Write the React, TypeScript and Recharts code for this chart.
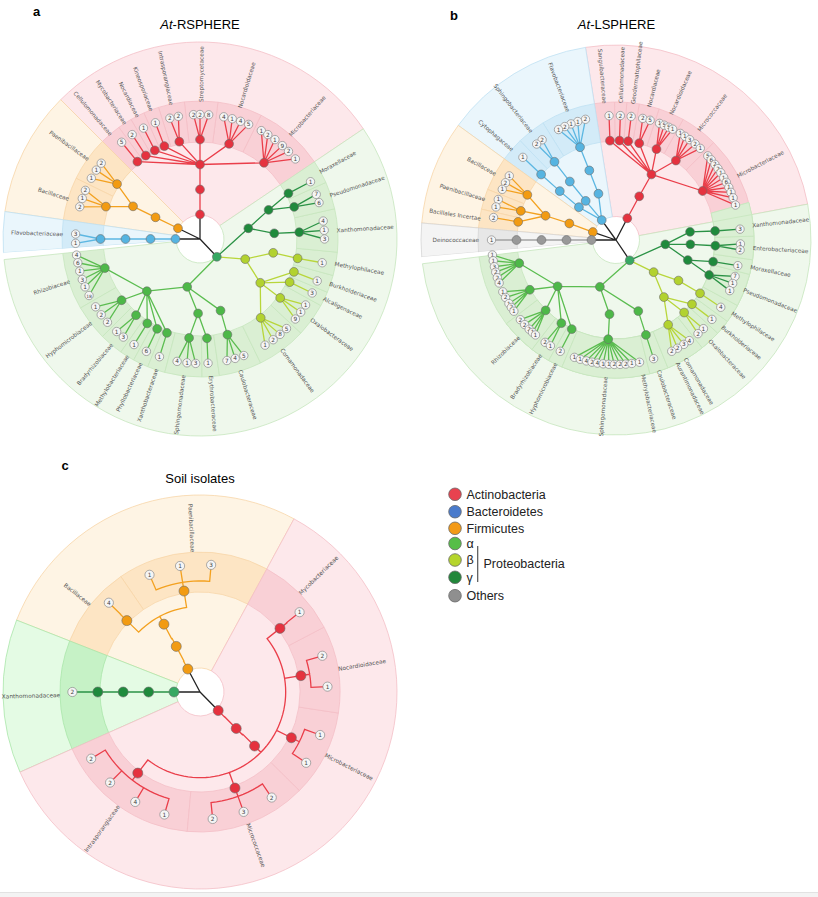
import React from 'react'
import { PieChart, Pie, Cell, ComposedChart, Line, Scatter, XAxis, YAxis } from 'recharts'

// node: [id, parent, angle (deg, ccw from 3 o'clock), taxonomic level, group]
type NodeRow = [string, string, number, number, string?]
// leaf: [family node, angle, isolates]
type LeafRow = [string, number, number]
type FamRow = [string, string]
// phylum sector: [tint, start, end]
type SecRow = [string, number, number]

// ---------- a: At-RSPHERE ----------
const rsphereSectors: SecRow[] = [
  ['red', 34, 135], ['orange', 135, 172], ['blue', 172, 184], ['gap', 184, 186], ['green', 186, 394],
]
const rsphereNodes: NodeRow[] = [
  ['A1', 'r', 90, 1, 'act'], ['A2', 'A1', 90, 2], ['A3', 'A2', 90, 3],
  ['Acel', 'A3', 129, 4], ['Amyc', 'A3', 123, 4], ['Anoc', 'A3', 117, 4], ['Akin', 'A3', 111, 4],
  ['Aint', 'A3', 102, 4], ['Astr', 'A3', 90, 4], ['Anod', 'A3', 73, 4], ['Amic', 'A3', 50, 4],
  ['F1', 'r', 154, 1, 'fir'], ['F2', 'F1', 154, 2], ['F3', 'F2', 154, 3], ['Fpae', 'F3', 146.5, 4], ['Fbac', 'F3', 161, 4],
  ['B1', 'r', 180, 1, 'bac'], ['B2', 'B1', 180, 2], ['B3', 'B2', 180, 3], ['Bfla', 'B3', 180, 4],
  ['P1', 'r', 313.4, 1, 'prot'],
  ['a1', 'P1', 255, 2, 'alpha'], ['a2', 'a1', 224.5, 3], ['a3', 'a1', 268.5, 3], ['a4', 'a1', 286, 3],
  ['arhi', 'a2', 197, 4], ['ahyp', 'a2', 218, 4], ['abra', 'a2', 230, 4], ['amet', 'a2', 238, 4],
  ['aphy', 'a2', 244.5, 4], ['axan', 'a2', 250.6, 4], ['asph', 'a3', 263.7, 4], ['aery', 'a3', 274, 4], ['acau', 'a4', 286, 4],
  ['b1', 'P1', 336, 2, 'beta'], ['b2', 'b1', 349.3, 3], ['b3', 'b1', 324, 3],
  ['bmet', 'b2', 348.8, 4], ['bbur', 'b3', 340.7, 4], ['balc', 'b3', 334.3, 4], ['boxa', 'b3', 323.7, 4], ['bcom', 'b3', 307.6, 4],
  ['g1', 'P1', 12.5, 2, 'gamma'], ['g2', 'g1', 4.4, 3], ['g3', 'g1', 23, 3],
  ['gxan', 'g2', 3.9, 4], ['gpse', 'g3', 18.8, 4], ['gmor', 'g3', 27.3, 4],
]
const rsphereLeaves: LeafRow[] = [
  ['Acel', 129, 5], ['Amyc', 123, 2], ['Anoc', 117, 1], ['Akin', 111, 1], ['Aint', 104, 2], ['Aint', 100, 2],
  ['Astr', 93, 2], ['Astr', 90, 2], ['Astr', 86, 8], ['Anod', 79, 4], ['Anod', 75, 1], ['Anod', 71, 4], ['Anod', 67, 5],
  ['Amic', 60.5, 1], ['Amic', 57, 2], ['Amic', 53, 1], ['Amic', 48.6, 9], ['Amic', 44.7, 2], ['Amic', 40, 1],
  ['Fpae', 142.5, 2], ['Fpae', 146.4, 1], ['Fpae', 150.8, 1], ['Fbac', 157, 2], ['Fbac', 161, 1], ['Fbac', 165, 2],
  ['Bfla', 177.7, 3], ['Bfla', 182, 1],
  ['arhi', 187.4, 4], ['arhi', 191, 6], ['arhi', 195, 1], ['arhi', 199, 3], ['arhi', 202.6, 1], ['arhi', 207, 18],
  ['ahyp', 213, 1], ['ahyp', 217.5, 2], ['ahyp', 222, 2], ['abra', 228, 1], ['abra', 232, 3], ['amet', 238, 1],
  ['aphy', 244.5, 6], ['axan', 251, 1], ['asph', 259.4, 4], ['asph', 264, 1], ['asph', 268, 3], ['aery', 273.7, 1],
  ['acau', 282.5, 7], ['acau', 286.4, 4], ['acau', 290.6, 5],
  ['bmet', 349, 1], ['bbur', 340.3, 1], ['balc', 334.3, 3], ['boxa', 328, 1], ['boxa', 324, 1], ['boxa', 320, 9],
  ['bcom', 314, 5], ['bcom', 310, 8], ['bcom', 306, 2], ['bcom', 301.5, 1],
  ['gmor', 27.4, 1], ['gpse', 21, 7], ['gpse', 17, 6], ['gxan', 8.3, 4], ['gxan', 4, 1], ['gxan', 0, 3],
]
const rsphereFamilies: FamRow[] = [
  ['Acel', 'Cellulomonadaceae'], ['Amyc', 'Mycobacteriaceae'], ['Anoc', 'Nocardiaceae'], ['Akin', 'Kineosporiaceae'],
  ['Aint', 'Intrasporangiaceae'], ['Astr', 'Streptomycetaceae'], ['Anod', 'Nocardioidaceae'], ['Amic', 'Microbacteriaceae'],
  ['Fpae', 'Paenibacillaceae'], ['Fbac', 'Bacillaceae'], ['Bfla', 'Flavobacteriaceae'],
  ['arhi', 'Rhizobiaceae'], ['ahyp', 'Hyphomicrobiaceae'], ['abra', 'Bradyrhizobiaceae'], ['amet', 'Methylobacteriaceae'],
  ['aphy', 'Phyllobacteriaceae'], ['axan', 'Xanthobacteraceae'], ['asph', 'Sphingomonadaceae'], ['aery', 'Erythrobacteraceae'],
  ['acau', 'Caulobacteraceae'], ['bmet', 'Methylophilaceae'], ['bbur', 'Burkholderiaceae'], ['balc', 'Alcaligenaceae'],
  ['boxa', 'Oxalobacteraceae'], ['bcom', 'Comamonadaceae'], ['gxan', 'Xanthomonadaceae'], ['gpse', 'Pseudomonadaceae'],
  ['gmor', 'Moraxellaceae'],
]

// ---------- b: At-LSPHERE ----------
const lsphereSectors: SecRow[] = [
  ['red', 10.6, 99], ['blue', 99, 144], ['orange', 144, 175], ['grey', 175, 185], ['gap', 185, 187], ['green', 187, 370.6],
]
const lsphereNodes: NodeRow[] = [
  ['A1', 'r', 62.5, 1, 'act'], ['A2', 'A1', 62, 2], ['A3', 'A2', 61.6, 3],
  ['Asan', 'A3', 93.5, 4], ['Acel', 'A3', 88, 4], ['Ageo', 'A3', 83, 4], ['Anoc', 'A3', 76.5, 4],
  ['Anod', 'A3', 66, 4], ['Amcc', 'A3', 53, 4], ['Amic', 'A3', 29.5, 4],
  ['B1', 'r', 125.6, 1, 'bac'], ['B2', 'B1', 110.8, 2], ['B3', 'B2', 111, 3], ['Bfla', 'B3', 111.2, 4],
  ['B4', 'B1', 127.8, 2], ['B5', 'B4', 128.3, 3], ['Bsph', 'B5', 128.2, 4],
  ['B6', 'B1', 138.5, 2], ['B7', 'B6', 139, 3], ['Bcyt', 'B7', 138.8, 4],
  ['F1', 'r', 161, 1, 'fir'], ['F2', 'F1', 160.5, 2], ['F3', 'F2', 161, 3],
  ['Fbac', 'F3', 153, 4], ['Fpae', 'F3', 163, 4], ['Finc', 'F3', 169.5, 4],
  ['O1', 'r', 180, 1, 'oth'], ['O2', 'O1', 180, 2], ['O3', 'O2', 180, 3], ['Odei', 'O3', 180, 4],
  ['P1', 'r', 304, 1, 'prot'],
  ['a1', 'P1', 251, 2, 'alpha'], ['a2', 'a1', 218.4, 3], ['a3', 'a1', 265, 3], ['a4', 'a1', 287.4, 3],
  ['amet', 'a2', 193.5, 4], ['aaur', 'a2', 210, 4], ['arhi', 'a2', 225, 4], ['abra', 'a2', 236.7, 4],
  ['ahyp', 'a2', 243.6, 4], ['asph', 'a3', 265.5, 4], ['acau', 'a4', 287.5, 4],
  ['b1', 'P1', 319.5, 2, 'beta'], ['b2', 'b1', 327, 3], ['b3', 'b1', 310, 3],
  ['bmet', 'b2', 327.6, 4], ['bbur', 'b3', 319.8, 4], ['boxa', 'b3', 313.2, 4], ['bcom', 'b3', 301.6, 4],
  ['g1', 'P1', 355, 2, 'gamma'], ['g2', 'g1', 6.3, 3], ['g3', 'g1', 356.7, 3], ['g4', 'g1', 344.4, 3],
  ['gxan', 'g2', 5.2, 4], ['gent', 'g3', 356.7, 4], ['gmor', 'g4', 347.4, 4], ['gpse', 'g4', 339.4, 4],
]
const lsphereLeaves: LeafRow[] = [
  ['Asan', 93.2, 1], ['Acel', 88, 2], ['Ageo', 83, 2], ['Anoc', 77.6, 2], ['Anoc', 74.1, 5],
  ['Anod', 69.5, 1], ['Anod', 67.2, 5], ['Anod', 64.9, 5], ['Anod', 62.9, 1],
  ['Amcc', 58.9, 1], ['Amcc', 56.4, 1], ['Amcc', 53.7, 3], ['Amcc', 50.5, 2], ['Amcc', 47.4, 1],
  ['Amic', 42.5, 5], ['Amic', 40.1, 6], ['Amic', 37.4, 2], ['Amic', 35, 2], ['Amic', 32.7, 1], ['Amic', 30.1, 1],
  ['Amic', 27.6, 6], ['Amic', 25, 1], ['Amic', 22.5, 1], ['Amic', 19.8, 1], ['Amic', 16.3, 1],
  ['Bfla', 104.2, 2], ['Bfla', 107.9, 1], ['Bfla', 111.2, 1], ['Bfla', 114.3, 2], ['Bfla', 117.5, 1],
  ['Bsph', 126.4, 2], ['Bsph', 129.6, 2], ['Bcyt', 138.4, 1],
  ['Fbac', 149, 1], ['Fbac', 152.6, 2], ['Fbac', 156, 1], ['Fpae', 161, 1], ['Fpae', 164.6, 1], ['Finc', 169.6, 2],
  ['Odei', 180, 1],
  ['amet', 186.9, 1], ['amet', 189.6, 1], ['amet', 192.4, 3], ['amet', 195, 2], ['amet', 197.6, 2], ['amet', 200.2, 4],
  ['aaur', 204.6, 1], ['aaur', 207.5, 2], ['aaur', 210.7, 1], ['aaur', 212.8, 2], ['aaur', 214.9, 1],
  ['arhi', 219.8, 2], ['arhi', 222.8, 2], ['arhi', 225.8, 2], ['arhi', 227.9, 1], ['arhi', 229.7, 1],
  ['abra', 235.3, 2], ['abra', 238.2, 1], ['ahyp', 243.4, 2],
  ['asph', 250.5, 1], ['asph', 253.3, 1], ['asph', 256.2, 4], ['asph', 258.9, 2], ['asph', 261.4, 4], ['asph', 264.1, 1],
  ['asph', 266.7, 1], ['asph', 269.2, 2], ['asph', 271.9, 2], ['asph', 274.5, 2], ['asph', 277.3, 1], ['asph', 280.9, 1],
  ['acau', 287.6, 3],
  ['bmet', 327.3, 4], ['bbur', 320.4, 1], ['boxa', 314.6, 1], ['boxa', 311.2, 2],
  ['bcom', 306.1, 4], ['bcom', 303, 3], ['bcom', 299.6, 2], ['bcom', 296.6, 2],
  ['gxan', 5, 3], ['gent', 358.2, 1], ['gent', 355.4, 2], ['gmor', 348.1, 1],
  ['gpse', 343, 7], ['gpse', 339.6, 1], ['gpse', 336, 1],
]
const lsphereFamilies: FamRow[] = [
  ['Asan', 'Sanguibacteraceae'], ['Acel', 'Cellulomonadaceae'], ['Ageo', 'Geodermatophilaceae'], ['Anoc', 'Nocardiaceae'],
  ['Anod', 'Nocardioidaceae'], ['Amcc', 'Micrococcaceae'], ['Amic', 'Microbacteriaceae'],
  ['Bfla', 'Flavobacteriaceae'], ['Bsph', 'Sphingobacteriaceae'], ['Bcyt', 'Cytophagaceae'],
  ['Fbac', 'Bacillaceae'], ['Fpae', 'Paenibacillaceae'], ['Finc', 'Bacillales Incertae'], ['Odei', 'Deinococcaceae'],
  ['amet', 'Methylobacteriaceae'], ['aaur', 'Aurantimonadaceae'], ['arhi', 'Rhizobiaceae'], ['abra', 'Bradyrhizobiaceae'],
  ['ahyp', 'Hyphomicrobiaceae'], ['asph', 'Sphingomonadaceae'], ['acau', 'Caulobacteraceae'],
  ['bmet', 'Methylophilaceae'], ['bbur', 'Burkholderiaceae'], ['boxa', 'Oxalobacteraceae'], ['bcom', 'Comamonadaceae'],
  ['gxan', 'Xanthomonadaceae'], ['gent', 'Enterobacteriaceae'], ['gmor', 'Moraxellaceae'], ['gpse', 'Pseudomonadaceae'],
]

// ---------- c: Soil isolates ----------
const soilSectors: SecRow[] = [['orange', 61.5, 158.6], ['cgreen', 158.6, 204], ['red', 204, 421.5]]
const soilNodes: NodeRow[] = [
  ['F1', 'r', 118, 1, 'fir'], ['F2', 'F1', 117.5, 2], ['F3', 'F2', 118, 3], ['Fbac', 'F3', 135.7, 4], ['Fpae', 'F3', 99, 4],
  ['G1', 'r', 180, 1, 'prot'], ['G2', 'G1', 180, 2, 'gamma'], ['G3', 'G2', 180, 3], ['Gxan', 'G3', 180, 4],
  ['A1', 'r', 314.4, 1, 'act'], ['A2', 'A1', 314.8, 2], ['A3', 'A2', 315.3, 3],
  ['Amyc', 'A3', 38.5, 4], ['Anod', 'A3', 9.2, 4], ['Amic', 'A3', 333.4, 4], ['Amcc', 'A3', 290, 4], ['Aint', 'A3', 232.5, 4],
]
const soilLeaves: LeafRow[] = [
  ['Fbac', 135.6, 4], ['Fpae', 113.3, 1], ['Fpae', 99, 1], ['Fpae', 85, 3], ['Gxan', 180, 2],
  ['Amyc', 38.7, 1], ['Anod', 16.5, 2], ['Anod', 2.4, 1], ['Amic', 340.3, 1], ['Amic', 326.3, 1],
  ['Amcc', 304.2, 2], ['Amcc', 290, 3], ['Amcc', 275.7, 2],
  ['Aint', 253.8, 1], ['Aint', 239.5, 4], ['Aint', 225.2, 2], ['Aint', 211.5, 2],
]
const soilFamilies: FamRow[] = [
  ['Fbac', 'Bacillaceae'], ['Fpae', 'Paenibacillaceae'], ['Gxan', 'Xanthomonadaceae'], ['Amyc', 'Mycobacteriaceae'],
  ['Anod', 'Nocardioidaceae'], ['Amic', 'Microbacteriaceae'], ['Amcc', 'Micrococcaceae'], ['Aint', 'Intrasporangiaceae'],
]

const legendNames = ['Actinobacteria', 'Bacteroidetes', 'Firmicutes', 'α', 'β', 'γ', 'Others']
const legendColors = ['#e8424f', '#4a7bcc', '#f39a17', '#56be48', '#b5d52c', '#21873a', '#8f8f8f']

const TINT: Record<string, string[]> = {
  red: ['#fde8eb', '#f9d0d6', '#f4bfc7'],
  orange: ['#fef4e4', '#fde5c4', '#f8d6a8'],
  blue: ['#eaf6fc', '#d3ebf8', '#bfe1f2'],
  green: ['#eff8ec', '#daefd3', '#c7e6be'],
  grey: ['#f4f4f4', '#e7e7e7', '#d6d6d6'],
  cgreen: ['#e4fbe4', '#c6f2c6', '#a9e6a9'],
  gap: ['#ffffff', '#ffffff', '#ffffff'],
}
const NODE_FILL: Record<string, string> = {
  act: '#e5323f', bac: '#56b4e1', fir: '#f29b12', prot: '#36a862', alpha: '#4db848',
  beta: '#b2d22f', gamma: '#1f8a3c', oth: '#999999',
}
const EDGE_COL: Record<string, string> = {
  root: '#222222', act: '#ea3e4a', bac: '#5cb7e2', fir: '#f3a11f', prot: '#5bbd50', alpha: '#5bbd50',
  beta: '#b8d63a', gamma: '#2a9245', oth: '#a3a3a3',
}

const polar = (r: number, a: number) => {
  const t = (a * Math.PI) / 180
  return { x: r * Math.cos(t), y: r * Math.sin(t) }
}
const norm = (a: number, s: number) => {
  let v = a
  while (v < s) v += 360
  while (v >= s + 360) v -= 360
  return v
}

function buildTree(p: any) {
  const info: Record<string, { a: number; r: number; g: string }> = { r: { a: 0, r: 0, g: 'root' } }
  const leafR = p.r1 + p.step * 4
  p.nodes.forEach(([id, parent, a, lvl, g]: NodeRow) => {
    info[id] = { a, r: p.r1 + p.step * (lvl - 1), g: g ?? info[parent].g }
  })
  const edges: Record<string, any[]> = {}
  const addEdge = (pid: string, a: number, r: number, key: string) => {
    const par = info[pid]
    const pts: any[] = [polar(par.r, par.a)]
    if (p.curved && pid !== 'r') {
      let d = a - par.a
      while (d > 180) d -= 360
      while (d < -180) d += 360
      const rm = par.r + 0.35 * (r - par.r)
      const n = Math.max(1, Math.ceil(Math.abs(d) / 3))
      for (let i = 0; i <= n; i++) pts.push(polar(rm, par.a + (d * i) / n))
    }
    pts.push(polar(r, a))
    pts.push({ x: 0, y: null })
    ;(edges[key] ||= []).push(...pts)
  }
  p.nodes.forEach(([id, parent]: NodeRow) =>
    addEdge(parent, info[id].a, info[id].r, parent === 'r' ? 'root' : info[id].g))
  p.leaves.forEach(([pid, a]: LeafRow) => addEdge(pid, a, leafR, info[pid].g))

  const nodePts = p.nodes.map(([id]: NodeRow) => ({ ...polar(info[id].r, info[id].a), fill: NODE_FILL[info[id].g] }))
  const leafPts = p.leaves.map(([, a, n]: LeafRow) => ({ ...polar(leafR, a), n }))

  const secs = p.sectors.map(([tint, s, e]: SecRow) => ({ tint, s, e, fams: [] as any[] }))
  p.families.forEach(([id, name]: FamRow) => {
    const sec = secs.find((S: any) => norm(info[id].a, S.s) <= S.e)
    const la = p.leaves.filter((l: LeafRow) => l[0] === id).map((l: LeafRow) => norm(l[1], sec.s))
    sec.fams.push({ name, lo: Math.min(...la), hi: Math.max(...la) })
  })
  const sectorCells: any[] = []
  const bandCells: any[] = []
  const labels: any[] = []
  secs.forEach((S: any) => {
    sectorCells.push({ value: S.e - S.s, tint: S.tint })
    if (!S.fams.length) {
      bandCells.push({ value: S.e - S.s, tint: S.tint })
      return
    }
    S.fams.sort((u: any, v: any) => u.lo - v.lo)
    S.fams.forEach((f: any, i: number) => {
      const a0 = i === 0 ? S.s : (S.fams[i - 1].hi + f.lo) / 2
      const a1 = i === S.fams.length - 1 ? S.e : (f.hi + S.fams[i + 1].lo) / 2
      bandCells.push({ value: a1 - a0, tint: S.tint })
      const mid = (a0 + a1) / 2
      labels.push({ ...polar(p.labelR, mid), name: f.name, a: ((mid % 360) + 360) % 360 })
    })
  })
  return { edges, nodePts, leafPts, sectorCells, bandCells, labels, start: p.sectors[0][1] }
}

// panel centre on the page: (cx, cy)
const panels = [
  { cx: 200, cy: 239, nodes: rsphereNodes, leaves: rsphereLeaves, families: rsphereFamilies, sectors: rsphereSectors,
    hole: 24, R: 197, band: [97, 138], r1: 24.5, step: 25, labelR: 137, curved: false, nodeR: 4.4, leafR: 4.2, fs: 5.7 },
  { cx: 616, cy: 240, nodes: lsphereNodes, leaves: lsphereLeaves, families: lsphereFamilies, sectors: lsphereSectors,
    hole: 23.5, R: 195, band: [99, 138], r1: 24.5, step: 25, labelR: 137, curved: false, nodeR: 4.4, leafR: 4.2, fs: 5.7 },
  { cx: 200, cy: 692, nodes: soilNodes, leaves: soilLeaves, families: soilFamilies, sectors: soilSectors,
    hole: 24, R: 197, band: [100, 140], r1: 26, step: 25.4, labelR: 140, curved: true, nodeR: 5, leafR: 4.6, fs: 5.8 },
]

function TreePanel({ p }: { p: any }) {
  const t = buildTree(p)
  const S = 440
  const renderNode = (pr: any) => (
    <circle cx={pr.cx} cy={pr.cy} r={p.nodeR} fill={pr.payload.fill} stroke="#6b6b6b" strokeWidth={0.6} />
  )
  const renderLeaf = (pr: any) => (
    <g>
      <circle cx={pr.cx} cy={pr.cy} r={p.leafR} fill="#f5f5f5" stroke="#8a8a8a" strokeWidth={0.7} />
      <text x={pr.cx} y={pr.cy + 2} textAnchor="middle" fontSize={pr.payload.n > 9 ? 4.5 : 5.8}
        fontFamily="DejaVu Sans" fill="#444">{pr.payload.n}</text>
    </g>
  )
  const renderLabel = (pr: any) => {
    const a = pr.payload.a
    const left = a > 90.5 && a < 269.5
    const rot = left ? 180 - a : -a
    return (
      <text x={pr.cx} y={pr.cy} dy={2} textAnchor={left ? 'end' : 'start'} fontSize={p.fs}
        fontFamily="DejaVu Sans" fill="#555" transform={`rotate(${rot} ${pr.cx} ${pr.cy})`}>
        {pr.payload.name}
      </text>
    )
  }
  return (
    <div style={{ position: 'absolute', left: p.cx - S / 2, top: p.cy - S / 2, width: S, height: S }}>
      <div style={{ position: 'absolute', left: 0, top: 0 }}>
        <PieChart width={S} height={S} margin={{ top: 0, right: 0, bottom: 0, left: 0 }}>
          <Pie data={t.sectorCells} dataKey="value" cx={S / 2} cy={S / 2} innerRadius={p.hole} outerRadius={p.R}
            startAngle={t.start} endAngle={t.start + 360} isAnimationActive={false}>
            {t.sectorCells.map((c: any, i: number) => (
              <Cell key={i} fill={TINT[c.tint][0]} stroke={TINT[c.tint][2]} strokeWidth={c.tint === 'gap' ? 0 : 0.8} />
            ))}
          </Pie>
          <Pie data={t.bandCells} dataKey="value" cx={S / 2} cy={S / 2} innerRadius={p.band[0]} outerRadius={p.band[1]}
            startAngle={t.start} endAngle={t.start + 360} isAnimationActive={false}>
            {t.bandCells.map((c: any, i: number) => (
              <Cell key={i} fill={TINT[c.tint][1]} stroke={TINT[c.tint][2]} strokeWidth={c.tint === 'gap' ? 0 : 0.8} />
            ))}
          </Pie>
        </PieChart>
      </div>
      <div style={{ position: 'absolute', left: 0, top: 0 }}>
        <ComposedChart width={S} height={S} margin={{ top: 0, right: 0, bottom: 0, left: 0 }}>
          <XAxis type="number" dataKey="x" domain={[-S / 2, S / 2]} hide allowDataOverflow />
          <YAxis type="number" dataKey="y" domain={[-S / 2, S / 2]} hide allowDataOverflow />
          {Object.entries(t.edges).map(([k, pts]) => (
            <Line key={k} data={pts} dataKey="y" type="linear" stroke={EDGE_COL[k]} strokeWidth={1.3}
              dot={false} activeDot={false} connectNulls={false} isAnimationActive={false} />
          ))}
          <Scatter data={t.nodePts} shape={renderNode} isAnimationActive={false} />
          <Scatter data={t.leafPts} shape={renderLeaf} isAnimationActive={false} />
          <Scatter data={t.labels} shape={renderLabel} isAnimationActive={false} />
        </ComposedChart>
      </div>
    </div>
  )
}

export default function App() {
  const font = 'Liberation Sans, Arial, sans-serif'
  return (
    <div style={{ position: 'absolute', left: 0, top: 0, width: 818, height: 897, background: '#fff', overflow: 'hidden' }}>
      {panels.map((p, i) => <TreePanel key={i} p={p} />)}
      <svg width={818} height={897} style={{ position: 'absolute', left: 0, top: 0, pointerEvents: 'none' }}>
        <g fontFamily={font}>
          <text x={33} y={16} fontSize={13} fontWeight="bold">a</text>
          <text x={200} y={28.5} fontSize={13} textAnchor="middle"><tspan fontStyle="italic">At</tspan>-RSPHERE</text>
          <text x={450} y={20} fontSize={13} fontWeight="bold">b</text>
          <text x={616.5} y={29} fontSize={13} textAnchor="middle"><tspan fontStyle="italic">At</tspan>-LSPHERE</text>
          <text x={61.5} y={470} fontSize={13} fontWeight="bold">c</text>
          <text x={200} y={482.5} fontSize={13} textAnchor="middle">Soil isolates</text>
          {legendNames.map((n, i) => {
            const y = [494.3, 511.7, 528.3, 543.5, 560, 577.3, 595.7][i]
            return (
              <g key={n}>
                <circle cx={455} cy={y} r={6.3} fill={legendColors[i]} stroke="#6a6a6a" strokeWidth={0.8} />
                <text x={466.5} y={y + 4.4} fontSize={12.5} fill="#222">{n}</text>
              </g>
            )
          })}
          <line x1={477.7} y1={546} x2={477.7} y2={582} stroke="#555" strokeWidth={1.2} />
          <text x={483.5} y={567.5} fontSize={12.5} fill="#222">Proteobacteria</text>
        </g>
        <rect x={0} y={892.5} width={818} height={5} fill="#f3f3f3" />
        <line x1={0} y1={892.5} x2={818} y2={892.5} stroke="#e2e2e2" strokeWidth={1} />
      </svg>
    </div>
  )
}
